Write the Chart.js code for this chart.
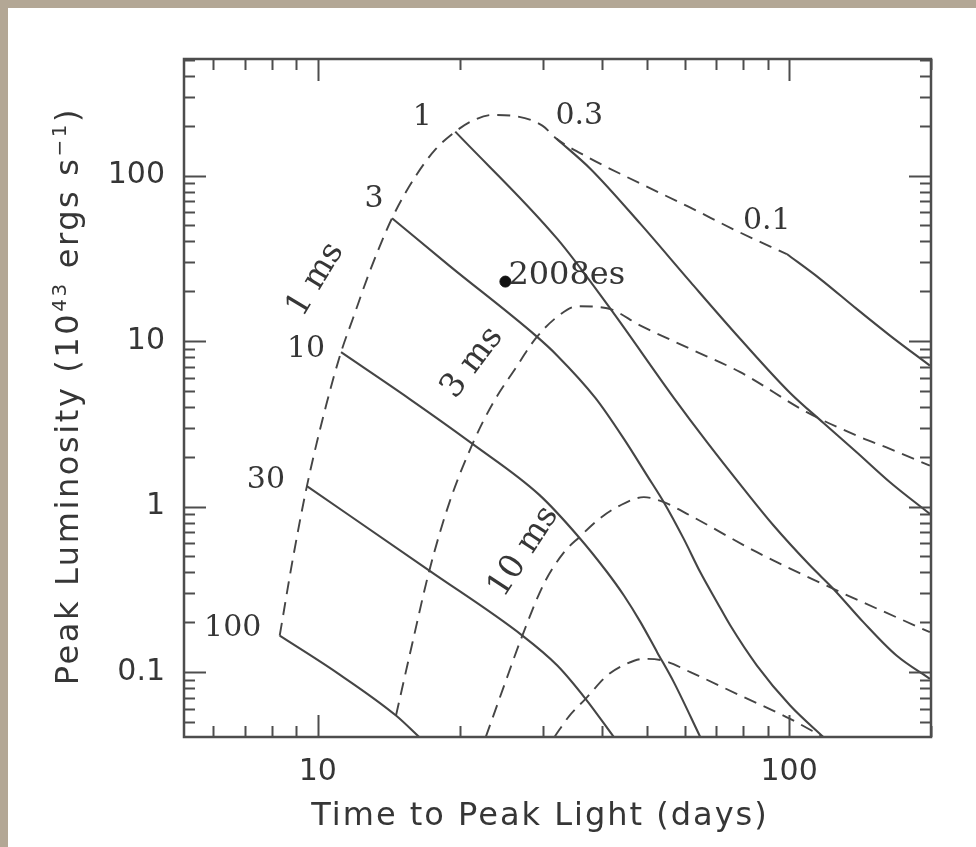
<!DOCTYPE html>
<html>
<head>
<meta charset="utf-8">
<title>Peak luminosity vs. time to peak light</title>
<script src="https://cdn.jsdelivr.net/npm/chart.js@4.4.0/dist/chart.umd.min.js"></script>
<style>
  html, body { margin: 0; padding: 0; background: #b3a795; }
  #wrap { width: 976px; height: 847px; }
</style>
</head>
<body>
<div id="wrap"><canvas id="peakChart" width="976" height="847"></canvas></div>
<script>
// Spin-period tracks (dashed): time to peak [days] vs peak luminosity [1e43 erg/s]
const p1Days  = [8.30, 8.85, 9.48, 10.41, 11.20, 11.86, 12.87, 14.37, 16.15, 17.80, 19.57, 21.29, 23.47, 26.30, 29.95, 32.06, 37.65, 48.07, 61.3, 78.2, 98.88];
const p1Lum   = [0.166, 0.483, 1.33, 4.08, 8.57, 13.6, 26.1, 55.3, 100, 145, 184.5, 214.9, 232.7, 228.5, 200.5, 167.8, 127.9, 90.3, 64.7, 45.7, 33.6];
const p3Days  = [14.65, 15.89, 17.24, 19.00, 21.29, 23.47, 26.30, 28.99, 32.22, 35.52, 41.11, 48.37, 61.72, 78.78, 109.0, 139.1, 163.7, 198.9];
const p3Lum   = [0.0546, 0.152, 0.410, 1.05, 2.39, 4.17, 6.89, 10.38, 14.04, 16.25, 15.80, 12.41, 8.97, 6.49, 3.72, 2.685, 2.232, 1.768];
const p10Days = [22.71, 24.88, 27.16, 30.24, 33.34, 35.86, 39.55, 43.6, 49.18, 54.21, 61.72, 85.45, 124.2, 198.9];
const p10Lum  = [0.0404, 0.0837, 0.1661, 0.346, 0.532, 0.653, 0.843, 1.01, 1.140, 1.063, 0.882, 0.530, 0.318, 0.1742];
const p30Days = [31.75, 34.17, 36.99, 41.11, 44.67, 49.18, 54.29, 61.72, 78.78, 100.5, 118.3];
const p30Lum  = [0.0404, 0.0544, 0.0689, 0.0953, 0.1105, 0.1202, 0.1169, 0.0999, 0.0721, 0.0521, 0.0404];

// Constant-field tracks (solid), field in units of 1e14 G
const b100Days = [8.30, 10.93, 14.65, 16.42];
const b100Lum  = [0.166, 0.0999, 0.0546, 0.0404];
const b30Days  = [9.48, 17.24, 27.16, 32.22, 36.99, 42.48];
const b30Lum   = [1.33, 0.410, 0.1661, 0.1095, 0.0689, 0.0404];
const b10Days  = [11.20, 15.64, 21.29, 29.51, 35.81, 41.11, 44.61, 48.37, 52.47, 56.92, 64.80];
const b10Lum   = [8.57, 4.48, 2.393, 1.177, 0.653, 0.401, 0.290, 0.2003, 0.1319, 0.0869, 0.0404];
const b3Days   = [14.37, 19.00, 28.99, 32.22, 38.8, 44.61, 49.97, 54.21, 59.76, 64.80, 70.31, 75.04, 85.45, 100.5, 118.3];
const b3Lum    = [55.3, 28.6, 10.79, 8.17, 4.54, 2.565, 1.539, 1.063, 0.638, 0.401, 0.2645, 0.1910, 0.1095, 0.0628, 0.0404];
const b1Days   = [19.57, 32.22, 41.78, 56.92, 66.95, 80.10, 92.68, 110.8, 124.2, 143.7, 169.0, 198.9];
const b1Lum    = [184.5, 41.45, 15.65, 4.54, 2.449, 1.279, 0.768, 0.440, 0.318, 0.2003, 0.1258, 0.0910];
const b03Days  = [32.06, 37.90, 48.37, 61.72, 78.78, 100.5, 118.3, 139.1, 163.7, 198.9];
const b03Lum   = [167.8, 109.8, 51.1, 22.8, 10.3, 4.86, 3.20, 2.132, 1.404, 0.903];
const b01Days  = [98.88, 116.3, 139.1, 163.7, 198.9];
const b01Lum   = [33.6, 23.8, 15.65, 10.8, 7.11];

// SN 2008es
const snDays = [25.0];
const snLum  = [22.9];

const xTickValues = [10, 100];
const yTickValues = [0.1, 1, 10, 100];
const fieldLabels = ['100', '30', '10', '3', '1', '0.3', '0.1'];
const periodLabels = ['1 ms', '3 ms', '10 ms'];

// label placement (style only): pixel offsets from each field track's first point
const fieldLabelOffsets = [[-47, -7], [-41, -6], [-35, -3], [-18, -19], [-33, -14], [23, -22], [-20, -33]];
// period label anchors in data space plus rotation in degrees
const periodLabelAnchors = [[9.9, 23.5, -59], [21.29, 7.39, -53], [27.36, 0.532, -57]];

const INK = '#363636';
const LINE = '#454545';

const toPoints = (xs, ys) => xs.map((x, i) => ({ x, y: ys[i] }));

function track(xs, ys, dashed) {
  return {
    type: 'line',
    data: toPoints(xs, ys),
    borderColor: LINE,
    borderWidth: dashed ? 1.9 : 2.1,
    borderDash: dashed ? [13, 8] : [],
    pointRadius: 0,
    fill: false,
    cubicInterpolationMode: 'monotone'
  };
}

const fieldTracks = [
  track(b100Days, b100Lum, false),
  track(b30Days, b30Lum, false),
  track(b10Days, b10Lum, false),
  track(b3Days, b3Lum, false),
  track(b1Days, b1Lum, false),
  track(b03Days, b03Lum, false),
  track(b01Days, b01Lum, false)
];
const periodTracks = [
  track(p1Days, p1Lum, true),
  track(p3Days, p3Lum, true),
  track(p10Days, p10Lum, true),
  track(p30Days, p30Lum, true)
];

// log tick positions for the inward frame ticks
function logTickSet(min, max) {
  const major = [], minor = [];
  for (let e = -3; e <= 4; e++) {
    for (let k = 1; k <= 9; k++) {
      const v = k * Math.pow(10, e);
      if (v < min || v > max) continue;
      (k === 1 ? major : minor).push(v);
    }
  }
  return { major, minor };
}

function drawSegment(ctx, x1, y1, x2, y2) {
  ctx.beginPath();
  ctx.moveTo(x1, y1);
  ctx.lineTo(x2, y2);
  ctx.stroke();
}

const decorations = {
  id: 'decorations',
  beforeDraw(chart) {
    const { ctx, width, height } = chart;
    ctx.save();
    ctx.fillStyle = '#b3a795';
    ctx.fillRect(0, 0, width, height);
    ctx.fillStyle = '#ffffff';
    ctx.fillRect(8, 8, width - 8, height - 8);
    ctx.restore();
  },
  afterDatasetsDraw(chart) {
    const { ctx, scales } = chart;
    const xs = scales.x, ys = scales.y;
    ctx.save();
    ctx.fillStyle = INK;
    ctx.textAlign = 'center';
    ctx.textBaseline = 'middle';
    ctx.font = '30px "DejaVu Serif"';

    // field strength labels at the head of each solid track
    fieldTracks.forEach((ds, i) => {
      const p = ds.data[0];
      const px = xs.getPixelForValue(p.x) + fieldLabelOffsets[i][0];
      const py = ys.getPixelForValue(p.y) + fieldLabelOffsets[i][1];
      ctx.fillText(fieldLabels[i], px, py);
    });

    // spin period labels along the dashed tracks
    ctx.font = '33px "DejaVu Serif"';
    periodLabelAnchors.forEach((a, i) => {
      ctx.save();
      ctx.translate(xs.getPixelForValue(a[0]), ys.getPixelForValue(a[1]));
      ctx.rotate(a[2] * Math.PI / 180);
      ctx.fillText(periodLabels[i], 0, 0);
      ctx.restore();
    });

    // SN name next to its marker
    ctx.textAlign = 'left';
    ctx.textBaseline = 'alphabetic';
    ctx.font = '32px "DejaVu Serif"';
    ctx.fillText('2008es', xs.getPixelForValue(snDays[0]) + 3, ys.getPixelForValue(snLum[0]) + 2);
    ctx.restore();
  },
  afterDraw(chart) {
    const { ctx, chartArea: a, scales } = chart;
    const xs = scales.x, ys = scales.y;
    ctx.save();
    ctx.strokeStyle = '#4d4d4d';
    ctx.lineWidth = 2.5;
    ctx.strokeRect(a.left, a.top, a.right - a.left, a.bottom - a.top);

    ctx.lineWidth = 2;
    const majorLen = 22, minorLen = 11;
    const xt = logTickSet(xs.min, xs.max);
    const yt = logTickSet(ys.min, ys.max);
    [[xt.major, majorLen], [xt.minor, minorLen]].forEach(([vals, len]) => {
      vals.forEach(v => {
        const p = Math.round(xs.getPixelForValue(v)) + 0.5;
        drawSegment(ctx, p, a.bottom, p, a.bottom - len);
        drawSegment(ctx, p, a.top, p, a.top + len);
      });
    });
    [[yt.major, majorLen], [yt.minor, minorLen]].forEach(([vals, len]) => {
      vals.forEach(v => {
        const p = Math.round(ys.getPixelForValue(v)) + 0.5;
        drawSegment(ctx, a.left, p, a.left + len, p);
        drawSegment(ctx, a.right, p, a.right - len, p);
      });
    });

    // axis titles
    ctx.fillStyle = INK;
    ctx.letterSpacing = '2px';
    ctx.font = '32px "DejaVu Sans"';
    ctx.textAlign = 'center';
    ctx.textBaseline = 'alphabetic';
    ctx.fillText('Time to Peak Light (days)', 540, 825);

    // y title with superscripts, drawn rotated
    const parts = [
      ['Peak Luminosity (10', false],
      ['43', true],
      [' ergs s', false],
      ['\u22121', true],
      [')', false]
    ];
    const base = '32px "DejaVu Sans"', sup = '20px "DejaVu Sans"';
    ctx.letterSpacing = '2.6px';
    let total = 0;
    parts.forEach(([t, s]) => { ctx.font = s ? sup : base; total += ctx.measureText(t).width; });
    ctx.translate(78, 396);
    ctx.rotate(-Math.PI / 2);
    ctx.textAlign = 'left';
    let cx = -total / 2;
    parts.forEach(([t, s]) => {
      ctx.font = s ? sup : base;
      ctx.fillText(t, cx, s ? -12 : 0);
      cx += ctx.measureText(t).width;
    });
    ctx.restore();
  }
};

const tickFont = { family: 'DejaVu Sans', size: 30 };

new Chart(document.getElementById('peakChart'), {
  type: 'line',
  data: {
    datasets: [
      ...periodTracks,
      ...fieldTracks,
      {
        type: 'scatter',
        data: toPoints(snDays, snLum),
        pointRadius: 5.5,
        pointBackgroundColor: '#111111',
        pointBorderColor: '#111111',
        showLine: false
      }
    ]
  },
  options: {
    responsive: false,
    animation: false,
    devicePixelRatio: 1,
    events: [],
    layout: { padding: { left: 0, top: 59, right: 45, bottom: 0 } },
    plugins: { legend: { display: false }, tooltip: { enabled: false } },
    scales: {
      x: {
        type: 'logarithmic',
        position: 'bottom',
        min: 5.2,
        max: 200,
        grid: { display: false, drawTicks: false },
        border: { display: false },
        ticks: {
          color: INK,
          font: tickFont,
          padding: 17,
          maxRotation: 0,
          callback: v => String(v)
        },
        afterBuildTicks: s => { s.ticks = xTickValues.map(v => ({ value: v })); },
        afterFit: s => { s.height = 110; }
      },
      y: {
        type: 'logarithmic',
        position: 'left',
        min: 0.0405,
        max: 507,
        grid: { display: false, drawTicks: false },
        border: { display: false },
        ticks: {
          color: INK,
          font: tickFont,
          padding: 19,
          callback: v => String(v)
        },
        afterBuildTicks: s => { s.ticks = yTickValues.map(v => ({ value: v })); },
        afterFit: s => { s.width = 184; }
      }
    }
  },
  plugins: [decorations]
});
</script>
</body>
</html>
